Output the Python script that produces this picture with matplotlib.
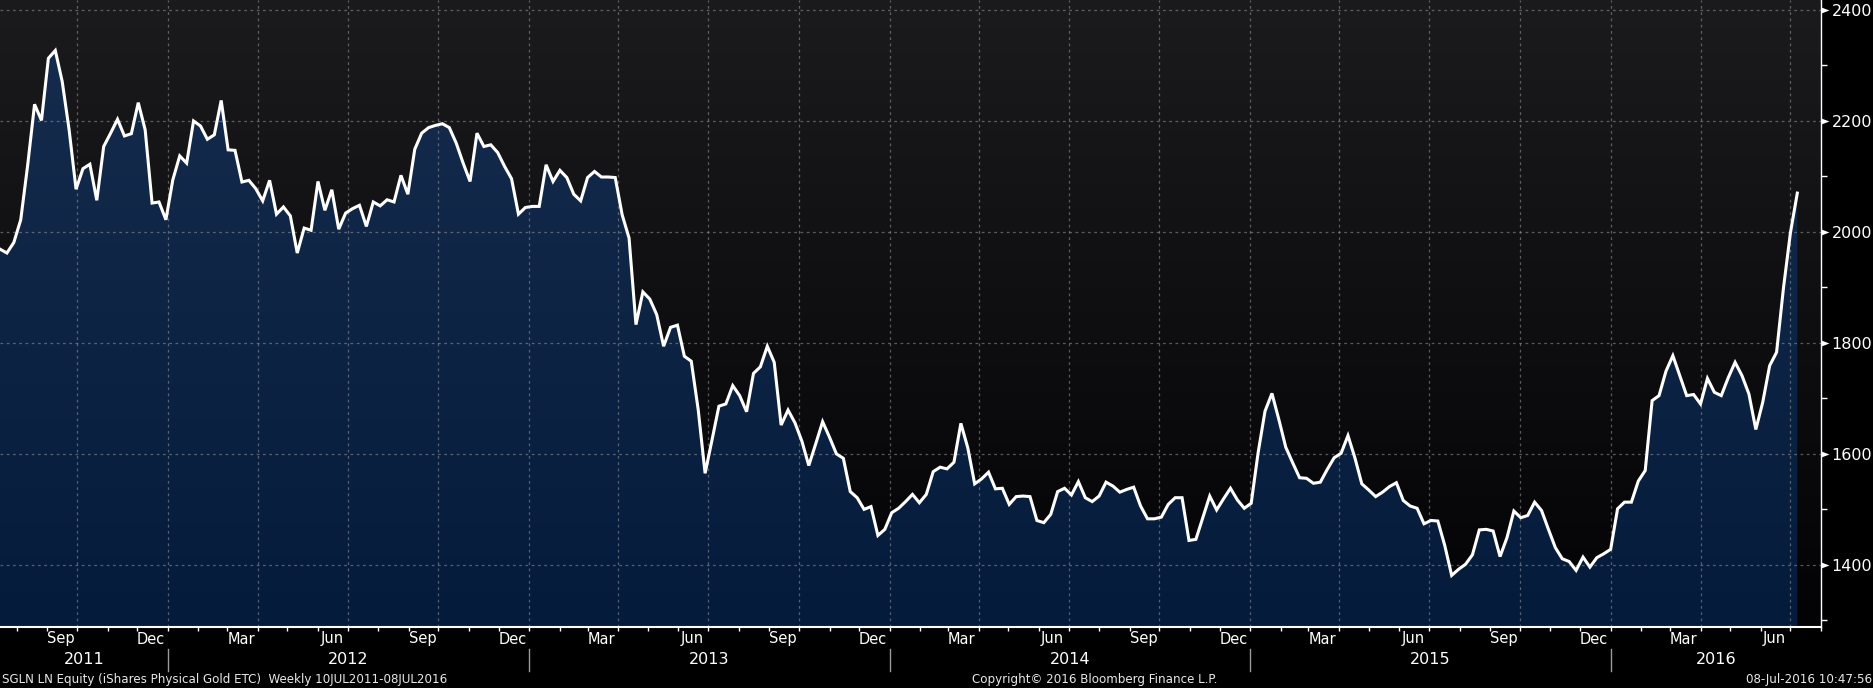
import numpy as np
import pandas as pd
import matplotlib
matplotlib.use("Agg")
import matplotlib.pyplot as plt
import matplotlib.dates as mdates
from matplotlib.transforms import blended_transform_factory
from matplotlib.colors import to_rgb
from matplotlib.lines import Line2D

# ---------------- data (weekly closes, GBp) ----------------
start_date = "2011-07-15"
vals_2011 = [1969, 1962, 1981, 2022, 2120, 2230, 2201, 2313, 2327, 2271,
             2184, 2077, 2114, 2122, 2057, 2154, 2178, 2203, 2173, 2177,
             2233, 2184, 2052, 2054, 2022]
vals_2012 = [2094, 2137, 2124, 2200, 2191, 2167, 2175, 2237, 2148, 2147,
             2090, 2093, 2078, 2056, 2093, 2032, 2045, 2029, 1962, 2007,
             2003, 2091, 2039, 2076, 2005, 2034, 2042, 2048, 2010, 2054,
             2047, 2058, 2054, 2102, 2068, 2149, 2178, 2188, 2192, 2195,
             2188, 2160, 2124, 2091, 2178, 2154, 2157, 2143, 2118, 2096,
             2032, 2044]
vals_2013 = [2046, 2046, 2121, 2091, 2111, 2098, 2068, 2056, 2098, 2109,
             2099, 2099, 2098, 2031, 1989, 1833, 1892, 1879, 1851, 1794,
             1828, 1832, 1776, 1767, 1680, 1565, 1625, 1686, 1690, 1723,
             1705, 1676, 1745, 1757, 1794, 1765, 1652, 1679, 1656, 1623,
             1579, 1618, 1658, 1630, 1600, 1592, 1532, 1521, 1500, 1505,
             1453, 1464]
vals_2014 = [1494, 1502, 1514, 1527, 1512, 1527, 1568, 1576, 1573, 1585,
             1655, 1611, 1546, 1555, 1567, 1537, 1538, 1509, 1523, 1524,
             1523, 1480, 1476, 1491, 1532, 1538, 1526, 1550, 1521, 1514,
             1524, 1549, 1542, 1531, 1536, 1540, 1506, 1483, 1483, 1486,
             1509, 1521, 1521, 1444, 1446, 1485, 1524, 1499, 1519, 1538,
             1517, 1502]
vals_2015 = [1511, 1602, 1677, 1709, 1662, 1612, 1584, 1557, 1556, 1547,
             1549, 1572, 1593, 1601, 1633, 1593, 1546, 1535, 1523, 1531,
             1541, 1548, 1516, 1506, 1502, 1474, 1480, 1479, 1435, 1381,
             1392, 1401, 1418, 1463, 1464, 1461, 1415, 1449, 1497, 1485,
             1489, 1513, 1498, 1464, 1431, 1411, 1406, 1390, 1414, 1396,
             1413, 1420]
vals_2016 = [1428, 1501, 1513, 1513, 1551, 1570, 1696, 1705, 1749, 1777,
             1741, 1705, 1707, 1690, 1736, 1711, 1705, 1737, 1765, 1741,
             1708, 1644, 1693, 1759, 1783, 1899, 1998, 2070]

values = vals_2011 + vals_2012 + vals_2013 + vals_2014 + vals_2015 + vals_2016
dates = pd.date_range(start_date, periods=len(values), freq="7D")

y_major = [1400, 1600, 1800, 2000, 2200, 2400]
y_minor = [1300, 1500, 1700, 1900, 2100, 2300]
month_labels = {3: "Mar", 6: "Jun", 9: "Sep", 12: "Dec"}
footer_left = "SGLN LN Equity (iShares Physical Gold ETC)  Weekly 10JUL2011-08JUL2016"
footer_mid = "Copyright\u00a9 2016 Bloomberg Finance L.P."
footer_right = "08-Jul-2016 10:47:56"

# ---------------- figure ----------------
W, H = 1874, 688
fig = plt.figure(figsize=(W / 100, H / 100), dpi=100, facecolor="black")
ax = fig.add_axes([0, 61 / H, 1821 / W, 627 / H])
ax.set_facecolor("none")

x0 = mdates.date2num(pd.Timestamp("2011-07-15"))
x1 = mdates.date2num(pd.Timestamp("2016-08-01"))
ylo, yhi = 1288, 2418

def vgrad(top, bottom, n=256):
    t = np.linspace(0, 1, n)[:, None]
    a = np.array(to_rgb(top))
    b = np.array(to_rgb(bottom))
    return (a * (1 - t) + b * t)[:, None, :]

# background gradient
ax.imshow(vgrad("#1b1b1d", "#030305"), extent=[0, 1, 0, 1],
          transform=ax.transAxes, aspect="auto", zorder=0, interpolation="bilinear")

# area fill gradient clipped to area under the curve
xd = mdates.date2num(dates)
poly = ax.fill_between(xd, values, ylo, facecolor="none", edgecolor="none")
im = ax.imshow(vgrad("#172d4f", "#041b3b"), extent=[x0, x1, ylo, yhi],
               aspect="auto", zorder=1, interpolation="bilinear")
im.set_clip_path(poly.get_paths()[0], ax.transData)

ax.plot(xd, values, color="white", lw=2.2, zorder=3, solid_joinstyle="miter")

ax.set_xlim(x0, x1)
ax.set_ylim(ylo, yhi)

# grid
ax.set_axisbelow("line")
ax.xaxis.set_major_locator(mdates.MonthLocator(bymonth=[1, 4, 7, 10]))
ax.xaxis.set_minor_locator(mdates.MonthLocator())
ax.grid(True, axis="both", which="major", color="#9a9a9a", alpha=0.55,
        lw=0.9, linestyle=(0, (2.2, 2.8)))
ax.tick_params(axis="x", which="both", direction="out", length=3, width=1,
               color="white", labelbottom=False)

ax.yaxis.tick_right()
ax.set_yticks(y_major)
ax.set_yticks(y_minor, minor=True)
ax.set_yticklabels([str(v) for v in y_major])
ax.tick_params(axis="y", which="major", length=0, pad=7.5, labelsize=11.5,
               labelcolor="white")
ax.tick_params(axis="y", which="minor", length=4, width=1, color="white",
               direction="out")

for s in ["left", "top"]:
    ax.spines[s].set_visible(False)
ax.spines["right"].set_color("white")
ax.spines["right"].set_linewidth(1.0)
ax.spines["bottom"].set_color("white")
ax.spines["bottom"].set_linewidth(1.5)

# triangle tick markers on the right axis
tri = [(0, -3), (8, 0), (0, 3)]
btr = blended_transform_factory(ax.transAxes, ax.transData)
ax.plot([1] * len(y_major), y_major, ls="none", marker=tri, ms=11.5,
        color="white", mec="none", transform=btr, clip_on=False, zorder=5)

# month labels and year labels below axis
bx = blended_transform_factory(ax.transData, fig.transFigure)
ym = 1 - 639 / H
yy = 1 - 660 / H
for yr in range(2011, 2017):
    for m, lab in month_labels.items():
        d = mdates.date2num(pd.Timestamp(yr, m, 15))
        if x0 < d < x1:
            ax.text(d, ym, lab, transform=bx, ha="center", va="center",
                    fontsize=10.5, color="white", clip_on=False)
    a = max(x0, mdates.date2num(pd.Timestamp(yr, 1, 1)))
    b = min(x1, mdates.date2num(pd.Timestamp(yr + 1, 1, 1)))
    ax.text((a + b) / 2, yy, str(yr), transform=bx, ha="center", va="center",
            fontsize=11.5, color="white", clip_on=False)
    if yr > 2011:
        jd = mdates.date2num(pd.Timestamp(yr, 1, 1))
        fig.add_artist(Line2D([jd, jd], [1 - 649 / H, 1 - 671 / H], transform=bx,
                              color="#9a9a9a", lw=1))

# footer
yf = 1 - 680 / H
fig.text(2 / W, yf, footer_left, ha="left", va="center", fontsize=8.6, color="#e8e8e8")
fig.text(1095 / W, yf, footer_mid, ha="center", va="center", fontsize=8.6, color="#e8e8e8")
fig.text(1872 / W, yf, footer_right, ha="right", va="center", fontsize=8.6, color="#e8e8e8")

fig.savefig("out.png", dpi=100, facecolor="black")
